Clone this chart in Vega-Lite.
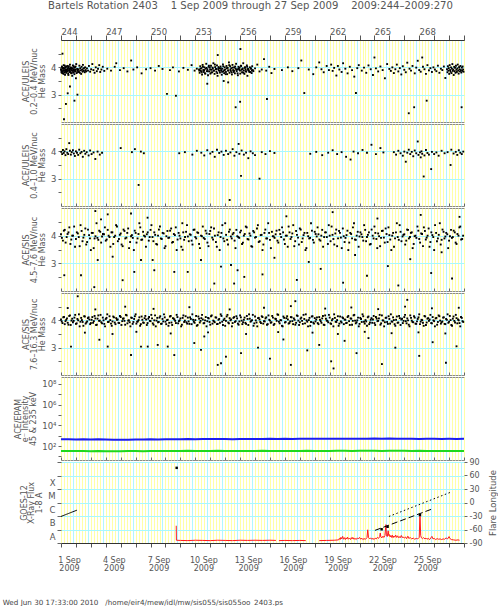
{
"$schema":"https://vega.github.io/schema/vega-lite/v6.json",
"background":"white",
"padding":{"left":2,"top":0,"right":0,"bottom":0},
"title":{"text":"Wed Jun 30 17:33:00 2010\u00a0\u00a0\u00a0/home/eir4/mew/idl/mw/sis055/sis055oo_2403.ps","orient":"bottom","anchor":"start","frame":"bounds","fontSize":7.2,"fontWeight":"normal","color":"#444","font":"DejaVu Sans","offset":26,"dx":-11},
"spacing":2,
"bounds":"flush",
"resolve":{"scale":{"x":"independent","y":"independent"}},
"datasets":{
"p1":[
{"d":1,"m":3.93},{"d":1.03,"m":3.84},{"d":1.06,"m":4.03},{"d":1.09,"m":3.79},{"d":1.12,"m":3.97},{"d":1.15,"m":3.88},{"d":1.18,"m":4.08},{"d":1.21,"m":3.82},{"d":1.24,"m":3.95},{"d":1.27,"m":3.73},{"d":1.3,"m":4.01},{"d":1.33,"m":3.87},{"d":1.36,"m":3.91},{"d":1.39,"m":3.86},{"d":1.42,"m":4.05},{"d":1.45,"m":3.92},{"d":1.48,"m":3.77},{"d":1.51,"m":3.99},{"d":1.54,"m":3.9},{"d":1.57,"m":3.83},{"d":1.6,"m":4.1},{"d":1.63,"m":3.95},{"d":1.66,"m":3.8},{"d":1.69,"m":3.98},{"d":1.72,"m":3.89},{"d":1.75,"m":3.69},{"d":1.78,"m":3.96},{"d":1.81,"m":3.81},{"d":1.84,"m":4.04},{"d":1.87,"m":3.88},{"d":1.9,"m":3.75},{"d":1.93,"m":4.0},{"d":1.96,"m":3.92},{"d":1.99,"m":3.85},{"d":2.02,"m":4.12},{"d":2.05,"m":3.79},{"d":2.08,"m":3.94},{"d":2.11,"m":3.9},{"d":2.14,"m":3.83},{"d":2.17,"m":3.93},{"d":2.2,"m":3.86},{"d":2.23,"m":4.06},{"d":2.26,"m":3.8},{"d":2.29,"m":3.97},{"d":2.32,"m":3.89},{"d":2.35,"m":3.76},{"d":2.38,"m":4.02},{"d":2.41,"m":3.91},{"d":2.44,"m":3.84},{"d":2.47,"m":4.09},{"d":2.5,"m":3.95},{"d":2.53,"m":3.87},{"d":2.56,"m":3.98},{"d":2.59,"m":3.82},{"d":2.62,"m":4.0},{"d":2.65,"m":3.9},{"d":2.68,"m":3.85},
{"d":1.015,"m":3.9},{"d":1.045,"m":3.81},{"d":1.075,"m":4.0},{"d":1.105,"m":3.86},{"d":1.135,"m":3.95},{"d":1.165,"m":3.76},{"d":1.195,"m":3.98},{"d":1.225,"m":3.89},{"d":1.255,"m":4.06},{"d":1.285,"m":3.84},{"d":1.315,"m":3.93},{"d":1.345,"m":3.8},{"d":1.375,"m":4.02},{"d":1.405,"m":3.91},{"d":1.435,"m":3.85},{"d":1.465,"m":3.97},{"d":1.495,"m":3.72},{"d":1.525,"m":4.04},{"d":1.555,"m":3.88},{"d":1.585,"m":3.94},{"d":1.615,"m":3.83},{"d":1.645,"m":4.0},{"d":1.675,"m":3.9},{"d":1.705,"m":3.78},{"d":1.735,"m":3.96},{"d":1.765,"m":3.87},{"d":1.795,"m":4.07},{"d":1.825,"m":3.92},{"d":1.855,"m":3.82},{"d":1.885,"m":3.99},{"d":1.915,"m":3.9},{"d":1.945,"m":3.86},{"d":1.975,"m":4.03},
{"d":2.74,"m":3.96},{"d":2.81,"m":3.88},{"d":2.87,"m":4.05},{"d":2.95,"m":3.84},{"d":3.02,"m":3.93},{"d":3.1,"m":4.12},{"d":3.17,"m":3.9},{"d":3.25,"m":3.8},{"d":3.33,"m":4.0},{"d":3.4,"m":3.86},{"d":3.48,"m":3.95},{"d":3.56,"m":4.08},{"d":3.63,"m":3.83},{"d":3.71,"m":3.92},{"d":3.8,"m":4.02},{"d":3.9,"m":3.87},
{"d":4.1,"m":3.95},{"d":4.35,"m":3.88},{"d":4.6,"m":4.02},{"d":4.7,"m":4.15},{"d":4.95,"m":3.9},{"d":5.2,"m":3.97},{"d":5.45,"m":3.85},{"d":5.7,"m":4.25},{"d":5.85,"m":3.92},{"d":6.1,"m":4.0},{"d":6.4,"m":3.78},{"d":6.7,"m":3.93},{"d":7.0,"m":3.97},{"d":7.3,"m":3.88},{"d":7.55,"m":4.05},{"d":7.8,"m":3.94},{"d":8.1,"m":3.03},{"d":8.3,"m":3.9},{"d":8.5,"m":4.0},{"d":8.7,"m":2.96},{"d":8.9,"m":3.85},{"d":9.2,"m":3.98},{"d":9.5,"m":3.91},{"d":9.75,"m":4.08},{"d":9.95,"m":3.88},{"d":10.1,"m":3.95},
{"d":10.25,"m":3.92},{"d":10.29,"m":3.8},{"d":10.33,"m":4.04},{"d":10.37,"m":3.87},{"d":10.41,"m":3.97},{"d":10.45,"m":3.74},{"d":10.49,"m":4.09},{"d":10.53,"m":3.9},{"d":10.57,"m":3.83},{"d":10.61,"m":4.0},{"d":10.65,"m":3.78},{"d":10.69,"m":3.95},{"d":10.73,"m":4.13},{"d":10.77,"m":3.86},{"d":10.81,"m":3.93},{"d":10.85,"m":3.71},{"d":10.89,"m":4.02},
{"d":10.93,"m":3.85},{"d":10.97,"m":3.99},{"d":11.01,"m":3.77},{"d":11.05,"m":4.06},{"d":11.09,"m":3.91},{"d":11.13,"m":3.82},{"d":11.17,"m":3.96},{"d":11.21,"m":4.15},{"d":11.25,"m":3.88},{"d":11.29,"m":3.76},{"d":11.33,"m":4.01},{"d":11.37,"m":3.93},{"d":11.41,"m":3.84},{"d":11.45,"m":4.07},{"d":11.49,"m":3.69},{"d":11.53,"m":3.94},{"d":11.57,"m":3.89},
{"d":11.61,"m":3.97},{"d":11.65,"m":3.81},{"d":11.69,"m":4.03},{"d":11.73,"m":3.9},{"d":11.77,"m":3.73},{"d":11.81,"m":3.95},{"d":11.85,"m":4.11},{"d":11.89,"m":3.86},{"d":11.93,"m":3.79},{"d":11.97,"m":4.0},{"d":12.01,"m":3.92},{"d":12.05,"m":3.83},{"d":12.09,"m":4.05},{"d":12.13,"m":3.75},{"d":12.17,"m":3.98},{"d":12.21,"m":3.88},{"d":12.25,"m":4.18},
{"d":12.29,"m":3.8},{"d":12.33,"m":4.04},{"d":12.37,"m":3.87},{"d":12.41,"m":3.97},{"d":12.45,"m":3.74},{"d":12.49,"m":4.09},{"d":12.53,"m":3.9},{"d":12.57,"m":3.83},{"d":12.61,"m":4.0},{"d":12.65,"m":3.78},{"d":12.69,"m":3.95},{"d":12.73,"m":4.13},{"d":12.77,"m":3.86},{"d":12.81,"m":3.93},{"d":12.85,"m":3.71},{"d":12.89,"m":4.02},{"d":12.93,"m":3.92},
{"d":12.97,"m":3.99},{"d":13.01,"m":3.77},{"d":13.05,"m":4.06},{"d":13.09,"m":3.91},{"d":13.13,"m":3.82},{"d":13.17,"m":3.96},{"d":13.21,"m":4.15},{"d":13.25,"m":3.88},{"d":13.29,"m":3.76},{"d":13.33,"m":4.01},{"d":13.37,"m":3.93},{"d":13.41,"m":3.84},{"d":13.45,"m":4.07},{"d":13.49,"m":3.69},{"d":13.53,"m":3.94},{"d":13.57,"m":3.89},{"d":13.61,"m":3.85},{"d":13.65,"m":4.0},{"d":13.69,"m":3.83},{"d":13.73,"m":3.95},{"d":13.77,"m":3.79},{"d":13.81,"m":4.04},{"d":13.85,"m":3.9},{"d":13.89,"m":3.86},
{"d":10.27,"m":3.88},{"d":10.35,"m":3.95},{"d":10.43,"m":3.83},{"d":10.51,"m":4.02},{"d":10.59,"m":3.9},{"d":10.67,"m":3.77},{"d":10.75,"m":3.98},{"d":10.83,"m":3.86},{"d":10.91,"m":4.06},{"d":10.99,"m":3.92},{"d":11.07,"m":3.81},{"d":11.15,"m":3.99},{"d":11.23,"m":3.88},{"d":11.31,"m":4.1},{"d":11.39,"m":3.94},{"d":11.47,"m":3.79},{"d":11.55,"m":4.01},{"d":11.63,"m":3.87},{"d":11.71,"m":3.96},{"d":11.79,"m":3.84},{"d":11.87,"m":4.04},{"d":11.95,"m":3.9},{"d":12.03,"m":3.75},{"d":12.11,"m":3.97},{"d":12.19,"m":3.89},{"d":12.27,"m":4.08},{"d":12.35,"m":3.92},{"d":12.43,"m":3.82},{"d":12.51,"m":3.99},{"d":12.59,"m":3.87},{"d":12.67,"m":4.03},{"d":12.75,"m":3.91},{"d":12.83,"m":3.78},{"d":12.91,"m":3.96},{"d":12.99,"m":3.88},{"d":13.07,"m":4.05},{"d":13.15,"m":3.93},{"d":13.23,"m":3.8},{"d":13.31,"m":3.98},{"d":13.39,"m":3.86},{"d":13.47,"m":4.02},{"d":13.55,"m":3.9},{"d":13.63,"m":3.83},{"d":13.71,"m":3.97},{"d":13.79,"m":3.88},
{"d":14.0,"m":3.96},{"d":14.15,"m":4.1},{"d":14.3,"m":3.85},{"d":14.45,"m":3.92},{"d":14.6,"m":4.3},{"d":14.75,"m":3.88},{"d":14.8,"m":2.84},{"d":14.95,"m":4.02},{"d":15.1,"m":3.79},{"d":15.3,"m":3.94},{"d":15.8,"m":3.9},{"d":16.2,"m":4.0},{"d":16.5,"m":3.86},{"d":16.9,"m":3.97},{"d":17.1,"m":4.25},{"d":17.3,"m":3.06},{"d":17.6,"m":3.92},{"d":17.9,"m":3.75},{"d":18.1,"m":4.0},{"d":18.3,"m":4.18},{"d":18.45,"m":3.93},{"d":18.6,"m":3.82},{"d":18.8,"m":4.05},{"d":18.95,"m":3.9},
{"d":19.1,"m":4.1},{"d":19.2,"m":3.87},{"d":19.3,"m":3.98},{"d":19.45,"m":3.7},{"d":19.55,"m":4.05},{"d":19.65,"m":3.92},{"d":19.8,"m":3.83},{"d":19.9,"m":4.15},{"d":20.05,"m":3.95},{"d":20.2,"m":3.78},{"d":20.35,"m":4.02},{"d":20.5,"m":3.9},{"d":20.65,"m":3.66},{"d":20.76,"m":3.06},{"d":20.85,"m":3.97},{"d":20.95,"m":4.08},
{"d":21.15,"m":3.88},{"d":21.3,"m":3.99},{"d":21.45,"m":3.8},{"d":21.6,"m":4.07},{"d":21.75,"m":3.93},{"d":21.9,"m":3.72},{"d":22.0,"m":4.36},{"d":22.1,"m":3.96},{"d":22.25,"m":3.85},{"d":22.4,"m":4.03},{"d":22.55,"m":3.9},{"d":22.7,"m":3.6},{"d":22.85,"m":4.12},{"d":23.0,"m":3.94},
{"d":23.1,"m":3.87},{"d":23.2,"m":4.0},{"d":23.3,"m":3.79},{"d":23.4,"m":3.93},{"d":23.5,"m":4.1},{"d":23.6,"m":3.85},{"d":23.7,"m":3.97},{"d":23.8,"m":3.74},{"d":23.9,"m":4.04},{"d":24.0,"m":3.91},{"d":24.1,"m":3.82},{"d":24.2,"m":4.17},{"d":24.3,"m":2.32},{"d":24.35,"m":3.95},{"d":24.45,"m":3.88},{"d":24.55,"m":4.05},{"d":24.66,"m":2.54},{"d":24.7,"m":3.78},{"d":24.8,"m":3.99},{"d":24.9,"m":4.24},{"d":25.0,"m":3.9},{"d":25.1,"m":3.84},{"d":25.2,"m":4.36},{"d":25.25,"m":4.02},{"d":25.35,"m":3.93},{"d":25.45,"m":3.76},{"d":25.5,"m":2.78},{"d":25.55,"m":4.08},{"d":25.65,"m":3.89},{"d":25.75,"m":3.97},{"d":25.85,"m":3.83},{"d":25.95,"m":4.0},{"d":26.05,"m":3.92},{"d":26.15,"m":3.86},{"d":26.25,"m":4.06},{"d":26.35,"m":3.8},{"d":26.45,"m":3.95},{"d":26.55,"m":3.9},{"d":26.65,"m":4.03},{"d":26.75,"m":3.61},
{"d":26.86,"m":3.93},{"d":26.89,"m":3.82},{"d":26.92,"m":4.04},{"d":26.95,"m":3.88},{"d":26.98,"m":3.97},{"d":27.01,"m":3.76},{"d":27.04,"m":4.08},{"d":27.07,"m":3.9},{"d":27.1,"m":3.84},{"d":27.13,"m":4.0},{"d":27.16,"m":3.79},{"d":27.19,"m":3.95},{"d":27.22,"m":4.12},{"d":27.25,"m":3.87},{"d":27.28,"m":3.92},{"d":27.31,"m":3.72},{"d":27.34,"m":4.02},{"d":27.37,"m":3.86},{"d":27.4,"m":3.98},{"d":27.43,"m":3.8},{"d":27.46,"m":4.06},{"d":27.49,"m":3.91},{"d":27.52,"m":3.83},{"d":27.55,"m":3.96},{"d":27.58,"m":4.1},{"d":27.61,"m":3.88},{"d":27.64,"m":3.77},{"d":27.67,"m":4.01},{"d":27.7,"m":3.93},{"d":27.73,"m":3.85},{"d":27.76,"m":4.05},{"d":27.79,"m":3.9},{"d":27.82,"m":3.81},{"d":27.84,"m":2.54},{"d":27.85,"m":3.99},{"d":27.88,"m":3.87},{"d":27.91,"m":4.03},{"d":27.94,"m":3.92},{"d":27.97,"m":3.84},
{"d":1.1,"m":4.5},{"d":1.2,"m":2.1},{"d":1.33,"m":2.66},{"d":1.45,"m":3.05},{"d":1.9,"m":2.78},{"d":2.0,"m":3.6},{"d":2.1,"m":3.0},{"d":1.6,"m":3.3},{"d":12.7,"m":2.54},{"d":13.0,"m":2.74},{"d":13.02,"m":4.67},{"d":11.5,"m":4.45},{"d":10.8,"m":3.4},{"d":12.2,"m":3.45},{"d":11.9,"m":3.5}
],
"p2":[
{"d":1.02,"m":3.98},{"d":1.08,"m":3.9},{"d":1.13,"m":4.05},{"d":1.18,"m":3.94},{"d":1.24,"m":4.0},{"d":1.3,"m":3.86},{"d":1.36,"m":4.08},{"d":1.42,"m":3.95},{"d":1.48,"m":3.9},{"d":1.55,"m":4.3},{"d":1.6,"m":4.02},{"d":1.66,"m":3.88},{"d":1.72,"m":3.97},{"d":1.8,"m":4.04},{"d":1.86,"m":3.92},{"d":1.93,"m":3.83},{"d":2.0,"m":4.0},{"d":2.07,"m":3.95},{"d":2.15,"m":3.87},{"d":2.22,"m":4.06},{"d":2.3,"m":3.93},{"d":2.38,"m":3.98},{"d":2.46,"m":3.8},{"d":2.55,"m":4.02},{"d":2.63,"m":3.91},{"d":2.72,"m":3.97},{"d":2.85,"m":3.85},{"d":2.95,"m":4.03},{"d":3.05,"m":3.9},{"d":3.18,"m":3.96},{"d":3.3,"m":3.72},{"d":3.45,"m":3.99},{"d":3.6,"m":3.88},{"d":3.75,"m":3.95},
{"d":5.0,"m":4.12},{"d":5.75,"m":3.97},{"d":5.95,"m":4.08},{"d":6.2,"m":2.77},{"d":6.35,"m":3.99},{"d":6.55,"m":3.93},
{"d":8.92,"m":3.93},{"d":9.3,"m":3.97},{"d":9.8,"m":3.88},{"d":10.1,"m":4.02},{"d":10.4,"m":3.95},{"d":10.6,"m":3.85},{"d":10.8,"m":4.04},{"d":11.0,"m":3.92},{"d":11.15,"m":3.98},{"d":11.3,"m":3.8},{"d":11.45,"m":4.06},{"d":11.6,"m":3.94},{"d":11.75,"m":3.99},{"d":11.9,"m":3.87},{"d":12.05,"m":4.02},{"d":12.2,"m":3.9},{"d":12.3,"m":2.22},{"d":12.35,"m":3.96},{"d":12.5,"m":4.08},{"d":12.62,"m":3.84},{"d":12.75,"m":3.97},{"d":12.9,"m":4.27},{"d":12.95,"m":3.91},{"d":13.06,"m":3.1},{"d":13.1,"m":4.03},{"d":13.25,"m":3.88},{"d":13.4,"m":3.95},{"d":13.55,"m":3.75},{"d":13.7,"m":4.0},{"d":13.85,"m":3.93},{"d":14.0,"m":3.86},
{"d":14.3,"m":3.0},{"d":14.45,"m":3.97},{"d":14.7,"m":3.9},{"d":15.0,"m":4.01},{"d":15.3,"m":3.94},{"d":17.7,"m":3.91},{"d":18.1,"m":3.98},{"d":18.5,"m":3.86},{"d":18.9,"m":3.95},{"d":19.2,"m":4.04},{"d":19.5,"m":3.9},{"d":19.8,"m":3.97},{"d":20.1,"m":3.8},{"d":20.4,"m":3.7},{"d":20.6,"m":3.99},{"d":20.9,"m":3.93},{"d":21.2,"m":4.05},{"d":21.5,"m":3.95},{"d":21.8,"m":4.24},{"d":22.1,"m":3.9},{"d":22.4,"m":4.12},{"d":22.6,"m":3.96},
{"d":23.3,"m":3.97},{"d":23.45,"m":3.88},{"d":23.6,"m":4.02},{"d":23.75,"m":3.93},{"d":23.9,"m":3.84},{"d":24.0,"m":3.99},{"d":24.1,"m":3.62},{"d":24.2,"m":3.95},{"d":24.3,"m":4.06},{"d":24.4,"m":3.9},{"d":24.5,"m":3.98},{"d":24.6,"m":3.82},{"d":24.7,"m":4.03},{"d":24.8,"m":3.93},{"d":24.9,"m":4.36},{"d":24.95,"m":3.87},{"d":25.05,"m":3.96},{"d":25.1,"m":3.78},{"d":25.15,"m":4.0},{"d":25.2,"m":3.91},{"d":25.3,"m":3.08},{"d":25.35,"m":3.85},{"d":25.45,"m":4.05},{"d":25.55,"m":3.94},{"d":25.65,"m":3.88},{"d":25.8,"m":3.35},{"d":25.85,"m":3.98},{"d":26.0,"m":3.9},{"d":26.15,"m":3.96},{"d":26.3,"m":3.84},{"d":26.5,"m":4.02},{"d":26.7,"m":3.93},{"d":26.9,"m":3.97},{"d":27.1,"m":3.5},{"d":27.15,"m":4.06},{"d":27.3,"m":3.92},{"d":27.45,"m":3.98},{"d":27.55,"m":3.87},{"d":27.65,"m":4.04},{"d":27.75,"m":3.95},{"d":27.85,"m":3.9},{"d":27.95,"m":3.99}
],
"p3":[
{"d":1,"m":4.05},{"d":1.13,"m":3.82},{"d":1.25,"m":4.21},{"d":1.38,"m":3.95},{"d":1.5,"m":4.12},{"d":1.63,"m":3.7},{"d":1.75,"m":4.0},{"d":1.88,"m":4.33},
{"d":2,"m":3.88},{"d":2.13,"m":4.08},{"d":2.25,"m":3.62},{"d":2.38,"m":4.17},{"d":2.5,"m":3.93},{"d":2.63,"m":4.26},{"d":2.75,"m":3.77},{"d":2.88,"m":4.02},
{"d":3,"m":3.48},{"d":3.13,"m":4.1},{"d":3.25,"m":3.9},{"d":3.38,"m":4.45},{"d":3.5,"m":3.85},{"d":3.63,"m":4.14},{"d":3.75,"m":3.97},{"d":3.88,"m":4.05},
{"d":4,"m":3.82},{"d":4.13,"m":4.21},{"d":4.25,"m":3.95},{"d":4.38,"m":4.12},{"d":4.5,"m":3.7},{"d":4.63,"m":4.0},{"d":4.75,"m":4.33},{"d":4.88,"m":3.88},
{"d":5,"m":4.08},{"d":5.13,"m":3.62},{"d":5.25,"m":4.17},{"d":5.38,"m":3.93},{"d":5.5,"m":4.26},{"d":5.63,"m":3.77},{"d":5.75,"m":4.02},{"d":5.88,"m":3.48},
{"d":6,"m":4.1},{"d":6.13,"m":3.9},{"d":6.25,"m":4.45},{"d":6.38,"m":3.85},{"d":6.5,"m":4.14},{"d":6.63,"m":3.97},{"d":6.75,"m":4.05},{"d":6.88,"m":3.82},
{"d":7,"m":4.21},{"d":7.13,"m":3.95},{"d":7.25,"m":4.12},{"d":7.38,"m":3.7},{"d":7.5,"m":4.0},{"d":7.63,"m":4.33},{"d":7.75,"m":3.88},{"d":7.88,"m":4.08},
{"d":8,"m":3.62},{"d":8.13,"m":4.17},{"d":8.25,"m":3.93},{"d":8.38,"m":4.26},{"d":8.5,"m":3.77},{"d":8.63,"m":4.02},{"d":8.75,"m":3.48},{"d":8.88,"m":4.1},
{"d":9,"m":3.9},{"d":9.13,"m":4.45},{"d":9.25,"m":3.85},{"d":9.38,"m":4.14},{"d":9.5,"m":3.97},{"d":9.63,"m":4.05},{"d":9.75,"m":3.82},{"d":9.88,"m":4.21},
{"d":10,"m":3.95},{"d":10.13,"m":4.12},{"d":10.25,"m":3.7},{"d":10.38,"m":4.0},{"d":10.5,"m":4.33},{"d":10.63,"m":3.88},{"d":10.75,"m":4.08},{"d":10.88,"m":3.62},
{"d":11,"m":4.17},{"d":11.13,"m":3.93},{"d":11.25,"m":4.26},{"d":11.38,"m":3.77},{"d":11.5,"m":4.02},{"d":11.63,"m":3.48},{"d":11.75,"m":4.1},{"d":11.88,"m":3.9},
{"d":12,"m":4.45},{"d":12.13,"m":3.85},{"d":12.25,"m":4.14},{"d":12.38,"m":3.97},{"d":12.5,"m":4.05},{"d":12.63,"m":3.82},{"d":12.75,"m":4.21},{"d":12.88,"m":3.95},
{"d":13,"m":4.12},{"d":13.13,"m":3.7},{"d":13.25,"m":4.0},{"d":13.38,"m":4.33},{"d":13.5,"m":3.88},{"d":13.63,"m":4.08},{"d":13.75,"m":3.62},{"d":13.88,"m":4.17},
{"d":14,"m":3.93},{"d":14.13,"m":4.26},{"d":14.25,"m":3.77},{"d":14.38,"m":4.02},{"d":14.5,"m":3.48},{"d":14.63,"m":4.1},{"d":14.75,"m":3.9},{"d":14.88,"m":4.45},
{"d":15,"m":3.85},{"d":15.13,"m":4.14},{"d":15.25,"m":3.97},{"d":15.38,"m":4.05},{"d":15.5,"m":3.82},{"d":15.63,"m":4.21},{"d":15.75,"m":3.95},{"d":15.88,"m":4.12},
{"d":16,"m":3.7},{"d":16.13,"m":4.0},{"d":16.25,"m":4.33},{"d":16.38,"m":3.88},{"d":16.5,"m":4.08},{"d":16.63,"m":3.62},{"d":16.75,"m":4.17},{"d":16.88,"m":3.93},
{"d":17,"m":4.26},{"d":17.13,"m":3.77},{"d":17.25,"m":4.02},{"d":17.38,"m":3.48},{"d":17.5,"m":4.1},{"d":17.63,"m":3.9},{"d":17.75,"m":4.45},{"d":17.88,"m":3.85},
{"d":18,"m":4.14},{"d":18.13,"m":3.97},{"d":18.25,"m":4.05},{"d":18.38,"m":3.82},{"d":18.5,"m":4.21},{"d":18.63,"m":3.95},{"d":18.75,"m":4.12},{"d":18.88,"m":3.7},
{"d":19,"m":4.0},{"d":19.13,"m":4.33},{"d":19.25,"m":3.88},{"d":19.38,"m":4.08},{"d":19.5,"m":3.62},{"d":19.63,"m":4.17},{"d":19.75,"m":3.93},{"d":19.88,"m":4.26},
{"d":20,"m":3.77},{"d":20.13,"m":4.02},{"d":20.25,"m":3.48},{"d":20.38,"m":4.1},{"d":20.5,"m":3.9},{"d":20.63,"m":4.45},{"d":20.75,"m":3.85},{"d":20.88,"m":4.14},
{"d":21,"m":3.97},{"d":21.13,"m":4.05},{"d":21.25,"m":3.82},{"d":21.38,"m":4.21},{"d":21.5,"m":3.95},{"d":21.63,"m":4.12},{"d":21.75,"m":3.7},{"d":21.88,"m":4.0},
{"d":22,"m":4.33},{"d":22.13,"m":3.88},{"d":22.25,"m":4.08},{"d":22.38,"m":3.62},{"d":22.5,"m":4.17},{"d":22.63,"m":3.93},{"d":22.75,"m":4.26},{"d":22.88,"m":3.77},
{"d":23,"m":4.02},{"d":23.13,"m":3.48},{"d":23.25,"m":4.1},{"d":23.38,"m":3.9},{"d":23.5,"m":4.45},{"d":23.63,"m":3.85},{"d":23.75,"m":4.14},{"d":23.88,"m":3.97},
{"d":24,"m":4.05},{"d":24.13,"m":3.82},{"d":24.25,"m":4.21},{"d":24.38,"m":3.95},{"d":24.5,"m":4.12},{"d":24.63,"m":3.7},{"d":24.75,"m":4.0},{"d":24.88,"m":4.33},
{"d":25,"m":3.88},{"d":25.13,"m":4.08},{"d":25.25,"m":3.62},{"d":25.38,"m":4.17},{"d":25.5,"m":3.93},{"d":25.63,"m":4.26},{"d":25.75,"m":3.77},{"d":25.88,"m":4.02},
{"d":26,"m":3.48},{"d":26.13,"m":4.1},{"d":26.25,"m":3.9},{"d":26.38,"m":4.45},{"d":26.5,"m":3.85},{"d":26.63,"m":4.14},{"d":26.75,"m":3.97},{"d":26.88,"m":4.05},
{"d":27,"m":3.82},{"d":27.13,"m":4.21},{"d":27.25,"m":3.95},{"d":27.38,"m":4.12},{"d":27.5,"m":3.7},{"d":27.63,"m":4.0},{"d":27.75,"m":4.33},{"d":27.88,"m":3.88},
{"d":1.06,"m":3.92},{"d":1.19,"m":4.18},{"d":1.31,"m":3.75},{"d":1.44,"m":4.06},{"d":1.56,"m":4.3},{"d":1.69,"m":3.86},{"d":1.81,"m":4.0},{"d":1.94,"m":3.6},
{"d":2.06,"m":4.12},{"d":2.19,"m":3.95},{"d":2.31,"m":4.38},{"d":2.44,"m":3.8},{"d":2.56,"m":4.03},{"d":2.69,"m":3.68},{"d":2.81,"m":4.22},{"d":2.94,"m":3.9},
{"d":3.06,"m":4.1},{"d":3.19,"m":3.55},{"d":3.31,"m":3.98},{"d":3.44,"m":3.92},{"d":3.56,"m":4.18},{"d":3.69,"m":3.75},{"d":3.81,"m":4.06},{"d":3.94,"m":4.3},
{"d":4.06,"m":3.86},{"d":4.19,"m":4.0},{"d":4.31,"m":3.6},{"d":4.44,"m":4.12},{"d":4.56,"m":3.95},{"d":4.69,"m":4.38},{"d":4.81,"m":3.8},{"d":4.94,"m":4.03},
{"d":5.06,"m":3.68},{"d":5.19,"m":4.22},{"d":5.31,"m":3.9},{"d":5.44,"m":4.1},{"d":5.56,"m":3.55},{"d":5.69,"m":3.98},{"d":5.81,"m":3.92},{"d":5.94,"m":4.18},
{"d":6.06,"m":3.75},{"d":6.19,"m":4.06},{"d":6.31,"m":4.3},{"d":6.44,"m":3.86},{"d":6.56,"m":4.0},{"d":6.69,"m":3.6},{"d":6.81,"m":4.12},{"d":6.94,"m":3.95},
{"d":7.06,"m":4.38},{"d":7.19,"m":3.8},{"d":7.31,"m":4.03},{"d":7.44,"m":3.68},{"d":7.56,"m":4.22},{"d":7.69,"m":3.9},{"d":7.81,"m":4.1},{"d":7.94,"m":3.55},
{"d":8.06,"m":3.98},{"d":8.19,"m":3.92},{"d":8.31,"m":4.18},{"d":8.44,"m":3.75},{"d":8.56,"m":4.06},{"d":8.69,"m":4.3},{"d":8.81,"m":3.86},{"d":8.94,"m":4.0},
{"d":9.06,"m":3.6},{"d":9.19,"m":4.12},{"d":9.31,"m":3.95},{"d":9.44,"m":4.38},{"d":9.56,"m":3.8},{"d":9.69,"m":4.03},{"d":9.81,"m":3.68},{"d":9.94,"m":4.22},
{"d":10.06,"m":3.9},{"d":10.19,"m":4.1},{"d":10.31,"m":3.55},{"d":10.44,"m":3.98},{"d":10.56,"m":3.92},{"d":10.69,"m":4.18},{"d":10.81,"m":3.75},{"d":10.94,"m":4.06},
{"d":11.06,"m":4.3},{"d":11.19,"m":3.86},{"d":11.31,"m":4.0},{"d":11.44,"m":3.6},{"d":11.56,"m":4.12},{"d":11.69,"m":3.95},{"d":11.81,"m":4.38},{"d":11.94,"m":3.8},
{"d":12.06,"m":4.03},{"d":12.19,"m":3.68},{"d":12.31,"m":4.22},{"d":12.44,"m":3.9},{"d":12.56,"m":4.1},{"d":12.69,"m":3.55},{"d":12.81,"m":3.98},{"d":12.94,"m":3.92},
{"d":13.06,"m":4.18},{"d":13.19,"m":3.75},{"d":13.31,"m":4.06},{"d":13.44,"m":4.3},{"d":13.56,"m":3.86},{"d":13.69,"m":4.0},{"d":13.81,"m":3.6},{"d":13.94,"m":4.12},
{"d":14.06,"m":3.95},{"d":14.19,"m":4.38},{"d":14.31,"m":3.8},{"d":14.44,"m":4.03},{"d":14.56,"m":3.68},{"d":14.69,"m":4.22},{"d":14.81,"m":3.9},{"d":14.94,"m":4.1},
{"d":15.06,"m":3.55},{"d":15.19,"m":3.98},{"d":15.31,"m":3.92},{"d":15.44,"m":4.18},{"d":15.56,"m":3.75},{"d":15.69,"m":4.06},{"d":15.81,"m":4.3},{"d":15.94,"m":3.86},
{"d":16.06,"m":4.0},{"d":16.19,"m":3.6},{"d":16.31,"m":4.12},{"d":16.44,"m":3.95},{"d":16.56,"m":4.38},{"d":16.69,"m":3.8},{"d":16.81,"m":4.03},{"d":16.94,"m":3.68},
{"d":17.06,"m":4.22},{"d":17.19,"m":3.9},{"d":17.31,"m":4.1},{"d":17.44,"m":3.55},{"d":17.56,"m":3.98},{"d":17.69,"m":3.92},{"d":17.81,"m":4.18},{"d":17.94,"m":3.75},
{"d":18.06,"m":4.06},{"d":18.19,"m":4.3},{"d":18.31,"m":3.86},{"d":18.44,"m":4.0},{"d":18.56,"m":3.6},{"d":18.69,"m":4.12},{"d":18.81,"m":3.95},{"d":18.94,"m":4.38},
{"d":19.06,"m":3.8},{"d":19.19,"m":4.03},{"d":19.31,"m":3.68},{"d":19.44,"m":4.22},{"d":19.56,"m":3.9},{"d":19.69,"m":4.1},{"d":19.81,"m":3.55},{"d":19.94,"m":3.98},
{"d":20.06,"m":3.92},{"d":20.19,"m":4.18},{"d":20.31,"m":3.75},{"d":20.44,"m":4.06},{"d":20.56,"m":4.3},{"d":20.69,"m":3.86},{"d":20.81,"m":4.0},{"d":20.94,"m":3.6},
{"d":21.06,"m":4.12},{"d":21.19,"m":3.95},{"d":21.31,"m":4.38},{"d":21.44,"m":3.8},{"d":21.56,"m":4.03},{"d":21.69,"m":3.68},{"d":21.81,"m":4.22},{"d":21.94,"m":3.9},
{"d":22.06,"m":4.1},{"d":22.19,"m":3.55},{"d":22.31,"m":3.98},{"d":22.44,"m":3.92},{"d":22.56,"m":4.18},{"d":22.69,"m":3.75},{"d":22.81,"m":4.06},{"d":22.94,"m":4.3},
{"d":23.06,"m":3.86},{"d":23.19,"m":4.0},{"d":23.31,"m":3.6},{"d":23.44,"m":4.12},{"d":23.56,"m":3.95},{"d":23.69,"m":4.38},{"d":23.81,"m":3.8},{"d":23.94,"m":4.03},
{"d":24.06,"m":3.68},{"d":24.19,"m":4.22},{"d":24.31,"m":3.9},{"d":24.44,"m":4.1},{"d":24.56,"m":3.55},{"d":24.69,"m":3.98},{"d":24.81,"m":3.92},{"d":24.94,"m":4.18},
{"d":25.06,"m":3.75},{"d":25.19,"m":4.06},{"d":25.31,"m":4.3},{"d":25.44,"m":3.86},{"d":25.56,"m":4.0},{"d":25.69,"m":3.6},{"d":25.81,"m":4.12},{"d":25.94,"m":3.95},
{"d":26.06,"m":4.38},{"d":26.19,"m":3.8},{"d":26.31,"m":4.03},{"d":26.44,"m":3.68},{"d":26.56,"m":4.22},{"d":26.69,"m":3.9},{"d":26.81,"m":4.1},{"d":26.94,"m":3.55},
{"d":27.06,"m":3.98},{"d":27.19,"m":3.92},{"d":27.31,"m":4.18},{"d":27.44,"m":3.75},{"d":27.56,"m":4.06},{"d":27.69,"m":4.3},{"d":27.81,"m":3.86},{"d":27.94,"m":4.0},
{"d":1.22,"m":2.57},{"d":2.34,"m":2.57},{"d":3.23,"m":2.14},{"d":3.46,"m":3.12},{"d":3.68,"m":4.59},{"d":3.3,"m":4.89},{"d":4.13,"m":4.77},{"d":4.46,"m":3.24},{"d":5.13,"m":2.39},{"d":5.69,"m":4.8},{"d":5.91,"m":2.69},{"d":6.36,"m":3.12},{"d":7.14,"m":3.12},{"d":7.25,"m":2.75},{"d":6.8,"m":4.65},{"d":8.59,"m":2.69},{"d":9.49,"m":2.69},{"d":9.15,"m":3.49},{"d":10.38,"m":3.12},{"d":11.27,"m":2.27},{"d":11.72,"m":2.88},{"d":12.39,"m":2.94},{"d":12.83,"m":2.75},{"d":13.28,"m":2.51},{"d":12.6,"m":2.27},{"d":14.5,"m":2.6},{"d":15.3,"m":3.2},{"d":16.1,"m":4.7},{"d":16.8,"m":2.4},{"d":17.6,"m":3.05},{"d":18.4,"m":2.8},{"d":19.2,"m":4.85},{"d":19.9,"m":2.3},{"d":20.7,"m":3.3},{"d":21.5,"m":2.55},{"d":22.2,"m":4.62},{"d":22.9,"m":2.9},{"d":23.6,"m":2.2},{"d":24.4,"m":3.15},{"d":25.1,"m":4.75},{"d":25.8,"m":2.65},{"d":26.5,"m":3.4},{"d":27.2,"m":2.45},{"d":27.7,"m":4.68}
],
"p4":[
{"d":1,"m":4.03},{"d":1.1,"m":3.9},{"d":1.2,"m":4.12},{"d":1.3,"m":3.97},{"d":1.4,"m":4.07},{"d":1.5,"m":3.84},{"d":1.6,"m":4.18},{"d":1.7,"m":3.99},{"d":1.8,"m":3.93},{"d":1.9,"m":4.1},
{"d":2,"m":3.87},{"d":2.1,"m":4.05},{"d":2.2,"m":4.22},{"d":2.3,"m":3.95},{"d":2.4,"m":4.01},{"d":2.5,"m":3.8},{"d":2.6,"m":4.14},{"d":2.7,"m":3.92},{"d":2.8,"m":4.08},{"d":2.9,"m":4.03},
{"d":3,"m":3.9},{"d":3.1,"m":4.12},{"d":3.2,"m":3.97},{"d":3.3,"m":4.07},{"d":3.4,"m":3.84},{"d":3.5,"m":4.18},{"d":3.6,"m":3.99},{"d":3.7,"m":3.93},{"d":3.8,"m":4.1},{"d":3.9,"m":3.87},
{"d":4,"m":4.05},{"d":4.1,"m":4.22},{"d":4.2,"m":3.95},{"d":4.3,"m":4.01},{"d":4.4,"m":3.8},{"d":4.5,"m":4.14},{"d":4.6,"m":3.92},{"d":4.7,"m":4.08},{"d":4.8,"m":4.03},{"d":4.9,"m":3.9},
{"d":5,"m":4.12},{"d":5.1,"m":3.97},{"d":5.2,"m":4.07},{"d":5.3,"m":3.84},{"d":5.4,"m":4.18},{"d":5.5,"m":3.99},{"d":5.6,"m":3.93},{"d":5.7,"m":4.1},{"d":5.8,"m":3.87},{"d":5.9,"m":4.05},
{"d":6,"m":4.22},{"d":6.1,"m":3.95},{"d":6.2,"m":4.01},{"d":6.3,"m":3.8},{"d":6.4,"m":4.14},{"d":6.5,"m":3.92},{"d":6.6,"m":4.08},{"d":6.7,"m":4.03},{"d":6.8,"m":3.9},{"d":6.9,"m":4.12},
{"d":7,"m":3.97},{"d":7.1,"m":4.07},{"d":7.2,"m":3.84},{"d":7.3,"m":4.18},{"d":7.4,"m":3.99},{"d":7.5,"m":3.93},{"d":7.6,"m":4.1},{"d":7.7,"m":3.87},{"d":7.8,"m":4.05},{"d":7.9,"m":4.22},
{"d":8,"m":3.95},{"d":8.1,"m":4.01},{"d":8.2,"m":3.8},{"d":8.3,"m":4.14},{"d":8.4,"m":3.92},{"d":8.5,"m":4.08},{"d":8.6,"m":4.03},{"d":8.7,"m":3.9},{"d":8.8,"m":4.12},{"d":8.9,"m":3.97},
{"d":9,"m":4.07},{"d":9.1,"m":3.84},{"d":9.2,"m":4.18},{"d":9.3,"m":3.99},{"d":9.4,"m":3.93},{"d":9.5,"m":4.1},{"d":9.6,"m":3.87},{"d":9.7,"m":4.05},{"d":9.8,"m":4.22},{"d":9.9,"m":3.95},
{"d":10,"m":4.01},{"d":10.1,"m":3.8},{"d":10.2,"m":4.14},{"d":10.3,"m":3.92},{"d":10.4,"m":4.08},{"d":10.5,"m":4.03},{"d":10.6,"m":3.9},{"d":10.7,"m":4.12},{"d":10.8,"m":3.97},{"d":10.9,"m":4.07},
{"d":11,"m":3.84},{"d":11.1,"m":4.18},{"d":11.2,"m":3.99},{"d":11.3,"m":3.93},{"d":11.4,"m":4.1},{"d":11.5,"m":3.87},{"d":11.6,"m":4.05},{"d":11.7,"m":4.22},{"d":11.8,"m":3.95},{"d":11.9,"m":4.01},
{"d":12,"m":3.8},{"d":12.1,"m":4.14},{"d":12.2,"m":3.92},{"d":12.3,"m":4.08},{"d":12.4,"m":4.03},{"d":12.5,"m":3.9},{"d":12.6,"m":4.12},{"d":12.7,"m":3.97},{"d":12.8,"m":4.07},{"d":12.9,"m":3.84},
{"d":13,"m":4.18},{"d":13.1,"m":3.99},{"d":13.2,"m":3.93},{"d":13.3,"m":4.1},{"d":13.4,"m":3.87},{"d":13.5,"m":4.05},{"d":13.6,"m":4.22},{"d":13.7,"m":3.95},{"d":13.8,"m":4.01},{"d":13.9,"m":3.8},
{"d":14,"m":4.14},{"d":14.1,"m":3.92},{"d":14.2,"m":4.08},{"d":14.3,"m":4.03},{"d":14.4,"m":3.9},{"d":14.5,"m":4.12},{"d":14.6,"m":3.97},{"d":14.7,"m":4.07},{"d":14.8,"m":3.84},{"d":14.9,"m":4.18},
{"d":15,"m":3.99},{"d":15.1,"m":3.93},{"d":15.2,"m":4.1},{"d":15.3,"m":3.87},{"d":15.4,"m":4.05},{"d":15.5,"m":4.22},{"d":15.6,"m":3.95},{"d":15.7,"m":4.01},{"d":15.8,"m":3.8},{"d":15.9,"m":4.14},
{"d":16,"m":3.92},{"d":16.1,"m":4.08},{"d":16.2,"m":4.03},{"d":16.3,"m":3.9},{"d":16.4,"m":4.12},{"d":16.5,"m":3.97},{"d":16.6,"m":4.07},{"d":16.7,"m":3.84},{"d":16.8,"m":4.18},{"d":16.9,"m":3.99},
{"d":17,"m":3.93},{"d":17.1,"m":4.1},{"d":17.2,"m":3.87},{"d":17.3,"m":4.05},{"d":17.4,"m":4.22},{"d":17.5,"m":3.95},{"d":17.6,"m":4.01},{"d":17.7,"m":3.8},{"d":17.8,"m":4.14},{"d":17.9,"m":3.92},
{"d":18,"m":4.08},{"d":18.1,"m":4.03},{"d":18.2,"m":3.9},{"d":18.3,"m":4.12},{"d":18.4,"m":3.97},{"d":18.5,"m":4.07},{"d":18.6,"m":3.84},{"d":18.7,"m":4.18},{"d":18.8,"m":3.99},{"d":18.9,"m":3.93},
{"d":19,"m":4.1},{"d":19.1,"m":3.87},{"d":19.2,"m":4.05},{"d":19.3,"m":4.22},{"d":19.4,"m":3.95},{"d":19.5,"m":4.01},{"d":19.6,"m":3.8},{"d":19.7,"m":4.14},{"d":19.8,"m":3.92},{"d":19.9,"m":4.08},
{"d":20,"m":4.03},{"d":20.1,"m":3.9},{"d":20.2,"m":4.12},{"d":20.3,"m":3.97},{"d":20.4,"m":4.07},{"d":20.5,"m":3.84},{"d":20.6,"m":4.18},{"d":20.7,"m":3.99},{"d":20.8,"m":3.93},{"d":20.9,"m":4.1},
{"d":21,"m":3.87},{"d":21.1,"m":4.05},{"d":21.2,"m":4.22},{"d":21.3,"m":3.95},{"d":21.4,"m":4.01},{"d":21.5,"m":3.8},{"d":21.6,"m":4.14},{"d":21.7,"m":3.92},{"d":21.8,"m":4.08},{"d":21.9,"m":4.03},
{"d":22,"m":3.9},{"d":22.1,"m":4.12},{"d":22.2,"m":3.97},{"d":22.3,"m":4.07},{"d":22.4,"m":3.84},{"d":22.5,"m":4.18},{"d":22.6,"m":3.99},{"d":22.7,"m":3.93},{"d":22.8,"m":4.1},{"d":22.9,"m":3.87},
{"d":23,"m":4.05},{"d":23.1,"m":4.22},{"d":23.2,"m":3.95},{"d":23.3,"m":4.01},{"d":23.4,"m":3.8},{"d":23.5,"m":4.14},{"d":23.6,"m":3.92},{"d":23.7,"m":4.08},{"d":23.8,"m":4.03},{"d":23.9,"m":3.9},
{"d":24,"m":4.12},{"d":24.1,"m":3.97},{"d":24.2,"m":4.07},{"d":24.3,"m":3.84},{"d":24.4,"m":4.18},{"d":24.5,"m":3.99},{"d":24.6,"m":3.93},{"d":24.7,"m":4.1},{"d":24.8,"m":3.87},{"d":24.9,"m":4.05},
{"d":25,"m":4.22},{"d":25.1,"m":3.95},{"d":25.2,"m":4.01},{"d":25.3,"m":3.8},{"d":25.4,"m":4.14},{"d":25.5,"m":3.92},{"d":25.6,"m":4.08},{"d":25.7,"m":4.03},{"d":25.8,"m":3.9},{"d":25.9,"m":4.12},
{"d":26,"m":3.97},{"d":26.1,"m":4.07},{"d":26.2,"m":3.84},{"d":26.3,"m":4.18},{"d":26.4,"m":3.99},{"d":26.5,"m":3.93},{"d":26.6,"m":4.1},{"d":26.7,"m":3.87},{"d":26.8,"m":4.05},{"d":26.9,"m":4.22},
{"d":27,"m":3.95},{"d":27.1,"m":4.01},{"d":27.2,"m":3.8},{"d":27.3,"m":4.14},{"d":27.4,"m":3.92},{"d":27.5,"m":4.08},{"d":27.6,"m":4.03},{"d":27.7,"m":3.9},{"d":27.8,"m":4.12},{"d":27.9,"m":3.97},
{"d":1.05,"m":3.96},{"d":1.15,"m":4.11},{"d":1.25,"m":3.86},{"d":1.35,"m":4.02},{"d":1.45,"m":3.91},{"d":1.55,"m":4.16},{"d":1.65,"m":3.83},{"d":1.75,"m":4.06},{"d":1.85,"m":3.98},{"d":1.95,"m":4.2},
{"d":2.05,"m":3.89},{"d":2.15,"m":4.0},{"d":2.25,"m":3.78},{"d":2.35,"m":4.09},{"d":2.45,"m":3.94},{"d":2.55,"m":4.15},{"d":2.65,"m":3.88},{"d":2.75,"m":3.96},{"d":2.85,"m":4.11},{"d":2.95,"m":3.86},
{"d":3.05,"m":4.02},{"d":3.15,"m":3.91},{"d":3.25,"m":4.16},{"d":3.35,"m":3.83},{"d":3.45,"m":4.06},{"d":3.55,"m":3.98},{"d":3.65,"m":4.2},{"d":3.75,"m":3.89},{"d":3.85,"m":4.0},{"d":3.95,"m":3.78},
{"d":4.05,"m":4.09},{"d":4.15,"m":3.94},{"d":4.25,"m":4.15},{"d":4.35,"m":3.88},{"d":4.45,"m":3.96},{"d":4.55,"m":4.11},{"d":4.65,"m":3.86},{"d":4.75,"m":4.02},{"d":4.85,"m":3.91},{"d":4.95,"m":4.16},
{"d":5.05,"m":3.83},{"d":5.15,"m":4.06},{"d":5.25,"m":3.98},{"d":5.35,"m":4.2},{"d":5.45,"m":3.89},{"d":5.55,"m":4.0},{"d":5.65,"m":3.78},{"d":5.75,"m":4.09},{"d":5.85,"m":3.94},{"d":5.95,"m":4.15},
{"d":6.05,"m":3.88},{"d":6.15,"m":3.96},{"d":6.25,"m":4.11},{"d":6.35,"m":3.86},{"d":6.45,"m":4.02},{"d":6.55,"m":3.91},{"d":6.65,"m":4.16},{"d":6.75,"m":3.83},{"d":6.85,"m":4.06},{"d":6.95,"m":3.98},
{"d":7.05,"m":4.2},{"d":7.15,"m":3.89},{"d":7.25,"m":4.0},{"d":7.35,"m":3.78},{"d":7.45,"m":4.09},{"d":7.55,"m":3.94},{"d":7.65,"m":4.15},{"d":7.75,"m":3.88},{"d":7.85,"m":3.96},{"d":7.95,"m":4.11},
{"d":8.05,"m":3.86},{"d":8.15,"m":4.02},{"d":8.25,"m":3.91},{"d":8.35,"m":4.16},{"d":8.45,"m":3.83},{"d":8.55,"m":4.06},{"d":8.65,"m":3.98},{"d":8.75,"m":4.2},{"d":8.85,"m":3.89},{"d":8.95,"m":4.0},
{"d":9.05,"m":3.78},{"d":9.15,"m":4.09},{"d":9.25,"m":3.94},{"d":9.35,"m":4.15},{"d":9.45,"m":3.88},{"d":9.55,"m":3.96},{"d":9.65,"m":4.11},{"d":9.75,"m":3.86},{"d":9.85,"m":4.02},{"d":9.95,"m":3.91},
{"d":10.05,"m":4.16},{"d":10.15,"m":3.83},{"d":10.25,"m":4.06},{"d":10.35,"m":3.98},{"d":10.45,"m":4.2},{"d":10.55,"m":3.89},{"d":10.65,"m":4.0},{"d":10.75,"m":3.78},{"d":10.85,"m":4.09},{"d":10.95,"m":3.94},
{"d":11.05,"m":4.15},{"d":11.15,"m":3.88},{"d":11.25,"m":3.96},{"d":11.35,"m":4.11},{"d":11.45,"m":3.86},{"d":11.55,"m":4.02},{"d":11.65,"m":3.91},{"d":11.75,"m":4.16},{"d":11.85,"m":3.83},{"d":11.95,"m":4.06},
{"d":12.05,"m":3.98},{"d":12.15,"m":4.2},{"d":12.25,"m":3.89},{"d":12.35,"m":4.0},{"d":12.45,"m":3.78},{"d":12.55,"m":4.09},{"d":12.65,"m":3.94},{"d":12.75,"m":4.15},{"d":12.85,"m":3.88},{"d":12.95,"m":3.96},
{"d":13.05,"m":4.11},{"d":13.15,"m":3.86},{"d":13.25,"m":4.02},{"d":13.35,"m":3.91},{"d":13.45,"m":4.16},{"d":13.55,"m":3.83},{"d":13.65,"m":4.06},{"d":13.75,"m":3.98},{"d":13.85,"m":4.2},{"d":13.95,"m":3.89},
{"d":14.05,"m":4.0},{"d":14.15,"m":3.78},{"d":14.25,"m":4.09},{"d":14.35,"m":3.94},{"d":14.45,"m":4.15},{"d":14.55,"m":3.88},{"d":14.65,"m":3.96},{"d":14.75,"m":4.11},{"d":14.85,"m":3.86},{"d":14.95,"m":4.02},
{"d":15.05,"m":3.91},{"d":15.15,"m":4.16},{"d":15.25,"m":3.83},{"d":15.35,"m":4.06},{"d":15.45,"m":3.98},{"d":15.55,"m":4.2},{"d":15.65,"m":3.89},{"d":15.75,"m":4.0},{"d":15.85,"m":3.78},{"d":15.95,"m":4.09},
{"d":16.05,"m":3.94},{"d":16.15,"m":4.15},{"d":16.25,"m":3.88},{"d":16.35,"m":3.96},{"d":16.45,"m":4.11},{"d":16.55,"m":3.86},{"d":16.65,"m":4.02},{"d":16.75,"m":3.91},{"d":16.85,"m":4.16},{"d":16.95,"m":3.83},
{"d":17.05,"m":4.06},{"d":17.15,"m":3.98},{"d":17.25,"m":4.2},{"d":17.35,"m":3.89},{"d":17.45,"m":4.0},{"d":17.55,"m":3.78},{"d":17.65,"m":4.09},{"d":17.75,"m":3.94},{"d":17.85,"m":4.15},{"d":17.95,"m":3.88},
{"d":18.05,"m":3.96},{"d":18.15,"m":4.11},{"d":18.25,"m":3.86},{"d":18.35,"m":4.02},{"d":18.45,"m":3.91},{"d":18.55,"m":4.16},{"d":18.65,"m":3.83},{"d":18.75,"m":4.06},{"d":18.85,"m":3.98},{"d":18.95,"m":4.2},
{"d":19.05,"m":3.89},{"d":19.15,"m":4.0},{"d":19.25,"m":3.78},{"d":19.35,"m":4.09},{"d":19.45,"m":3.94},{"d":19.55,"m":4.15},{"d":19.65,"m":3.88},{"d":19.75,"m":3.96},{"d":19.85,"m":4.11},{"d":19.95,"m":3.86},
{"d":20.05,"m":4.02},{"d":20.15,"m":3.91},{"d":20.25,"m":4.16},{"d":20.35,"m":3.83},{"d":20.45,"m":4.06},{"d":20.55,"m":3.98},{"d":20.65,"m":4.2},{"d":20.75,"m":3.89},{"d":20.85,"m":4.0},{"d":20.95,"m":3.78},
{"d":21.05,"m":4.09},{"d":21.15,"m":3.94},{"d":21.25,"m":4.15},{"d":21.35,"m":3.88},{"d":21.45,"m":3.96},{"d":21.55,"m":4.11},{"d":21.65,"m":3.86},{"d":21.75,"m":4.02},{"d":21.85,"m":3.91},{"d":21.95,"m":4.16},
{"d":22.05,"m":3.83},{"d":22.15,"m":4.06},{"d":22.25,"m":3.98},{"d":22.35,"m":4.2},{"d":22.45,"m":3.89},{"d":22.55,"m":4.0},{"d":22.65,"m":3.78},{"d":22.75,"m":4.09},{"d":22.85,"m":3.94},{"d":22.95,"m":4.15},
{"d":23.05,"m":3.88},{"d":23.15,"m":3.96},{"d":23.25,"m":4.11},{"d":23.35,"m":3.86},{"d":23.45,"m":4.02},{"d":23.55,"m":3.91},{"d":23.65,"m":4.16},{"d":23.75,"m":3.83},{"d":23.85,"m":4.06},{"d":23.95,"m":3.98},
{"d":24.05,"m":4.2},{"d":24.15,"m":3.89},{"d":24.25,"m":4.0},{"d":24.35,"m":3.78},{"d":24.45,"m":4.09},{"d":24.55,"m":3.94},{"d":24.65,"m":4.15},{"d":24.75,"m":3.88},{"d":24.85,"m":3.96},{"d":24.95,"m":4.11},
{"d":25.05,"m":3.86},{"d":25.15,"m":4.02},{"d":25.25,"m":3.91},{"d":25.35,"m":4.16},{"d":25.45,"m":3.83},{"d":25.55,"m":4.06},{"d":25.65,"m":3.98},{"d":25.75,"m":4.2},{"d":25.85,"m":3.89},{"d":25.95,"m":4.0},
{"d":26.05,"m":3.78},{"d":26.15,"m":4.09},{"d":26.25,"m":3.94},{"d":26.35,"m":4.15},{"d":26.45,"m":3.88},{"d":26.55,"m":3.96},{"d":26.65,"m":4.11},{"d":26.75,"m":3.86},{"d":26.85,"m":4.02},{"d":26.95,"m":3.91},
{"d":27.05,"m":4.16},{"d":27.15,"m":3.83},{"d":27.25,"m":4.06},{"d":27.35,"m":3.98},{"d":27.45,"m":4.2},{"d":27.55,"m":3.89},{"d":27.65,"m":4.0},{"d":27.75,"m":3.78},{"d":27.85,"m":4.09},{"d":27.95,"m":3.94},
{"d":1.45,"m":4.45},{"d":2.12,"m":4.88},{"d":2.6,"m":3.55},{"d":3.3,"m":4.4},{"d":4.45,"m":3.5},{"d":5.3,"m":4.5},{"d":6.05,"m":3.58},{"d":7.2,"m":4.42},{"d":8.35,"m":3.52},{"d":9.6,"m":4.48},{"d":10.85,"m":3.56},{"d":12.3,"m":4.4},{"d":13.4,"m":3.5},{"d":14.6,"m":4.46},{"d":15.55,"m":3.57},{"d":16.4,"m":4.52},{"d":17.85,"m":3.55},{"d":18.7,"m":4.43},{"d":19.55,"m":3.5},{"d":20.45,"m":4.47},{"d":21.35,"m":3.58},{"d":22.25,"m":4.41},{"d":23.15,"m":3.53},{"d":24.05,"m":4.5},{"d":24.95,"m":3.56},{"d":25.85,"m":4.44},{"d":26.75,"m":3.52},{"d":27.65,"m":4.46},
{"d":1.67,"m":3.04},{"d":3.57,"m":3.29},{"d":4.13,"m":3.04},{"d":5.69,"m":2.73},{"d":6.36,"m":3.04},{"d":6.81,"m":3.04},{"d":7.48,"m":3.1},{"d":8.15,"m":3.04},{"d":8.59,"m":2.73},{"d":9.93,"m":3.17},{"d":10.38,"m":2.92},{"d":10.6,"m":3.41},{"d":11.5,"m":2.37},{"d":11.72,"m":2.43},{"d":12.05,"m":2.67},{"d":13.06,"m":2.8},{"d":14.2,"m":3.0},{"d":15.0,"m":2.6},{"d":15.9,"m":3.3},{"d":16.4,"m":2.37},{"d":16.7,"m":4.7},{"d":17.5,"m":2.9},{"d":18.3,"m":3.1},{"d":19.1,"m":2.5},{"d":19.26,"m":2.24},{"d":20.0,"m":3.25},{"d":20.8,"m":2.8},{"d":21.6,"m":3.35},{"d":22.5,"m":2.4},{"d":23.4,"m":3.0},{"d":24.2,"m":4.75},{"d":25.0,"m":2.7},{"d":25.9,"m":3.2},{"d":26.79,"m":2.45},{"d":27.5,"m":3.05}
],
"epam":[
{"d":1,"v":440,"e":"45 keV"},{"d":1.5,"v":452,"e":"45 keV"},{"d":2,"v":436,"e":"45 keV"},{"d":2.5,"v":448,"e":"45 keV"},{"d":3,"v":430,"e":"45 keV"},{"d":3.5,"v":445,"e":"45 keV"},{"d":4,"v":425,"e":"45 keV"},{"d":4.5,"v":405,"e":"45 keV"},{"d":5,"v":412,"e":"45 keV"},{"d":5.5,"v":398,"e":"45 keV"},{"d":6,"v":420,"e":"45 keV"},{"d":6.5,"v":432,"e":"45 keV"},{"d":7,"v":440,"e":"45 keV"},{"d":7.5,"v":428,"e":"45 keV"},{"d":8,"v":446,"e":"45 keV"},{"d":8.5,"v":455,"e":"45 keV"},{"d":9,"v":462,"e":"45 keV"},{"d":9.5,"v":470,"e":"45 keV"},{"d":10,"v":458,"e":"45 keV"},{"d":10.5,"v":474,"e":"45 keV"},{"d":11,"v":466,"e":"45 keV"},{"d":11.5,"v":480,"e":"45 keV"},{"d":12,"v":470,"e":"45 keV"},{"d":12.5,"v":462,"e":"45 keV"},{"d":13,"v":476,"e":"45 keV"},{"d":13.5,"v":468,"e":"45 keV"},{"d":14,"v":485,"e":"45 keV"},{"d":14.5,"v":478,"e":"45 keV"},{"d":15,"v":490,"e":"45 keV"},{"d":15.5,"v":482,"e":"45 keV"},{"d":16,"v":495,"e":"45 keV"},{"d":16.5,"v":486,"e":"45 keV"},{"d":17,"v":500,"e":"45 keV"},{"d":17.5,"v":492,"e":"45 keV"},{"d":18,"v":505,"e":"45 keV"},{"d":18.5,"v":496,"e":"45 keV"},{"d":19,"v":510,"e":"45 keV"},{"d":19.5,"v":500,"e":"45 keV"},{"d":20,"v":515,"e":"45 keV"},{"d":20.5,"v":505,"e":"45 keV"},{"d":21,"v":498,"e":"45 keV"},{"d":21.5,"v":512,"e":"45 keV"},{"d":22,"v":520,"e":"45 keV"},{"d":22.5,"v":508,"e":"45 keV"},{"d":23,"v":525,"e":"45 keV"},{"d":23.5,"v":515,"e":"45 keV"},{"d":24,"v":505,"e":"45 keV"},{"d":24.5,"v":495,"e":"45 keV"},{"d":25,"v":488,"e":"45 keV"},{"d":25.5,"v":500,"e":"45 keV"},{"d":26,"v":492,"e":"45 keV"},{"d":26.5,"v":485,"e":"45 keV"},{"d":27,"v":495,"e":"45 keV"},{"d":27.5,"v":488,"e":"45 keV"},{"d":28,"v":492,"e":"45 keV"},
{"d":1,"v":33,"e":"235 keV"},{"d":1.5,"v":34,"e":"235 keV"},{"d":2,"v":32.5,"e":"235 keV"},{"d":2.5,"v":33.5,"e":"235 keV"},{"d":3,"v":32,"e":"235 keV"},{"d":3.5,"v":33,"e":"235 keV"},{"d":4,"v":31.5,"e":"235 keV"},{"d":4.5,"v":32,"e":"235 keV"},{"d":5,"v":31,"e":"235 keV"},{"d":5.5,"v":32.5,"e":"235 keV"},{"d":6,"v":33,"e":"235 keV"},{"d":6.5,"v":32,"e":"235 keV"},{"d":7,"v":33.5,"e":"235 keV"},{"d":7.5,"v":32.5,"e":"235 keV"},{"d":8,"v":33,"e":"235 keV"},{"d":8.5,"v":34,"e":"235 keV"},{"d":9,"v":33,"e":"235 keV"},{"d":9.5,"v":34.5,"e":"235 keV"},{"d":10,"v":33.5,"e":"235 keV"},{"d":10.5,"v":34,"e":"235 keV"},{"d":11,"v":33,"e":"235 keV"},{"d":11.5,"v":34.5,"e":"235 keV"},{"d":12,"v":33.5,"e":"235 keV"},{"d":12.5,"v":34,"e":"235 keV"},{"d":13,"v":33,"e":"235 keV"},{"d":13.5,"v":34,"e":"235 keV"},{"d":14,"v":33.5,"e":"235 keV"},{"d":14.5,"v":34.5,"e":"235 keV"},{"d":15,"v":33.5,"e":"235 keV"},{"d":15.5,"v":34,"e":"235 keV"},{"d":16,"v":33,"e":"235 keV"},{"d":16.5,"v":34,"e":"235 keV"},{"d":17,"v":33.5,"e":"235 keV"},{"d":17.5,"v":34.5,"e":"235 keV"},{"d":18,"v":33.5,"e":"235 keV"},{"d":18.5,"v":34,"e":"235 keV"},{"d":19,"v":33,"e":"235 keV"},{"d":19.5,"v":34.5,"e":"235 keV"},{"d":20,"v":35,"e":"235 keV"},{"d":20.5,"v":34,"e":"235 keV"},{"d":21,"v":35.5,"e":"235 keV"},{"d":21.5,"v":34.5,"e":"235 keV"},{"d":22,"v":35,"e":"235 keV"},{"d":22.5,"v":34,"e":"235 keV"},{"d":23,"v":35.5,"e":"235 keV"},{"d":23.5,"v":34.5,"e":"235 keV"},{"d":24,"v":35,"e":"235 keV"},{"d":24.5,"v":34,"e":"235 keV"},{"d":25,"v":34.5,"e":"235 keV"},{"d":25.5,"v":33.5,"e":"235 keV"},{"d":26,"v":34,"e":"235 keV"},{"d":26.5,"v":33,"e":"235 keV"},{"d":27,"v":34,"e":"235 keV"},{"d":27.5,"v":33.5,"e":"235 keV"},{"d":28,"v":34,"e":"235 keV"}
],
"xray":[
{"d":8.72,"f":1.9e-7,"s":1},{"d":8.73,"f":1.6e-8,"s":1},{"d":9.0,"f":1.55e-8,"s":1},{"d":9.5,"f":1.5e-8,"s":1},{"d":10.0,"f":1.6e-8,"s":1},{"d":10.5,"f":1.55e-8,"s":1},{"d":11.0,"f":1.5e-8,"s":1},{"d":11.5,"f":1.6e-8,"s":1},{"d":12.0,"f":1.55e-8,"s":1},{"d":12.5,"f":1.5e-8,"s":1},{"d":13.0,"f":1.6e-8,"s":1},{"d":13.5,"f":1.55e-8,"s":1},{"d":14.0,"f":1.6e-8,"s":1},{"d":14.5,"f":1.55e-8,"s":1},{"d":15.0,"f":1.6e-8,"s":1},{"d":15.4,"f":1.55e-8,"s":1},
{"d":15.6,"f":1.5e-8,"s":2},{"d":16.0,"f":1.55e-8,"s":2},{"d":16.5,"f":1.5e-8,"s":2},{"d":17.0,"f":1.55e-8,"s":2},{"d":17.4,"f":1.5e-8,"s":2},
{"d":18.3,"f":1.5e-8,"s":3},{"d":18.8,"f":1.55e-8,"s":3},{"d":19.3,"f":1.6e-8,"s":3},{"d":19.6,"f":1.7e-8,"s":3},{"d":19.65,"f":2.2e-8,"s":3},{"d":19.7,"f":1.8e-8,"s":3},{"d":19.75,"f":2.6e-8,"s":3},{"d":19.8,"f":2.0e-8,"s":3},{"d":19.87,"f":3.1e-8,"s":3},{"d":19.92,"f":1.9e-8,"s":3},{"d":19.98,"f":2.5e-8,"s":3},{"d":20.05,"f":1.8e-8,"s":3},{"d":20.1,"f":2.4e-8,"s":3},{"d":20.15,"f":2.0e-8,"s":3},{"d":20.2,"f":2.7e-8,"s":3},{"d":20.25,"f":1.9e-8,"s":3},{"d":20.32,"f":2.3e-8,"s":3},{"d":20.4,"f":1.8e-8,"s":3},{"d":20.45,"f":2.5e-8,"s":3},{"d":20.5,"f":2.0e-8,"s":3},{"d":20.55,"f":2.6e-8,"s":3},{"d":20.62,"f":1.9e-8,"s":3},{"d":20.7,"f":2.2e-8,"s":3},{"d":20.78,"f":1.8e-8,"s":3},{"d":20.85,"f":2.4e-8,"s":3},{"d":20.92,"f":2.0e-8,"s":3},{"d":21.0,"f":2.6e-8,"s":3},{"d":21.08,"f":1.9e-8,"s":3},{"d":21.15,"f":2.3e-8,"s":3},{"d":21.22,"f":1.8e-8,"s":3},{"d":21.3,"f":2.1e-8,"s":3},{"d":21.4,"f":1.9e-8,"s":3},{"d":21.5,"f":2.5e-8,"s":3},{"d":21.55,"f":9.5e-8,"s":3},{"d":21.6,"f":2.6e-8,"s":3},{"d":21.68,"f":2.0e-8,"s":3},{"d":21.75,"f":2.4e-8,"s":3},{"d":21.82,"f":1.9e-8,"s":3},{"d":21.9,"f":2.2e-8,"s":3},{"d":21.98,"f":1.8e-8,"s":3},{"d":22.05,"f":2.3e-8,"s":3},{"d":22.12,"f":2.0e-8,"s":3},{"d":22.2,"f":2.6e-8,"s":3},{"d":22.28,"f":2.2e-8,"s":3},{"d":22.35,"f":3.0e-8,"s":3},{"d":22.39,"f":5.5e-8,"s":3},{"d":22.43,"f":2.8e-8,"s":3},{"d":22.5,"f":2.4e-8,"s":3},{"d":22.57,"f":3.2e-8,"s":3},{"d":22.63,"f":2.6e-8,"s":3},{"d":22.7,"f":3.5e-8,"s":3},{"d":22.77,"f":2.3e-7,"s":3},{"d":22.8,"f":4.0e-8,"s":3},{"d":22.86,"f":3.0e-8,"s":3},{"d":22.92,"f":8.0e-8,"s":3},{"d":22.96,"f":3.5e-8,"s":3},{"d":23.0,"f":4.2e-8,"s":3},{"d":23.05,"f":2.8e-8,"s":3},{"d":23.1,"f":3.6e-8,"s":3},{"d":23.15,"f":2.6e-8,"s":3},{"d":23.2,"f":3.8e-8,"s":3},{"d":23.25,"f":2.5e-8,"s":3},{"d":23.3,"f":3.3e-8,"s":3},{"d":23.36,"f":2.7e-8,"s":3},{"d":23.42,"f":3.9e-8,"s":3},{"d":23.48,"f":2.6e-8,"s":3},{"d":23.55,"f":3.4e-8,"s":3},{"d":23.6,"f":2.5e-8,"s":3},{"d":23.66,"f":3.0e-8,"s":3},{"d":23.72,"f":2.4e-8,"s":3},{"d":23.8,"f":3.6e-8,"s":3},{"d":23.86,"f":2.5e-8,"s":3},{"d":23.92,"f":2.9e-8,"s":3},{"d":24.0,"f":2.3e-8,"s":3},{"d":24.08,"f":2.8e-8,"s":3},{"d":24.15,"f":2.1e-8,"s":3},{"d":24.24,"f":3.2e-8,"s":3},{"d":24.3,"f":2.2e-8,"s":3},{"d":24.4,"f":2.5e-8,"s":3},{"d":24.5,"f":2.0e-8,"s":3},{"d":24.6,"f":2.3e-8,"s":3},{"d":24.7,"f":1.9e-8,"s":3},{"d":24.8,"f":2.2e-8,"s":3},{"d":24.9,"f":2.0e-8,"s":3},{"d":25.0,"f":2.6e-8,"s":3},{"d":25.05,"f":1.4e-6,"s":3},{"d":25.1,"f":3.5e-8,"s":3},{"d":25.15,"f":2.4e-8,"s":3},{"d":25.22,"f":2.1e-8,"s":3},{"d":25.3,"f":2.5e-8,"s":3},{"d":25.38,"f":2.0e-8,"s":3},{"d":25.45,"f":2.3e-8,"s":3},{"d":25.52,"f":1.9e-8,"s":3},{"d":25.6,"f":2.2e-8,"s":3},{"d":25.7,"f":1.8e-8,"s":3},{"d":25.78,"f":2.4e-8,"s":3},{"d":25.85,"f":3.1e-8,"s":3},{"d":25.92,"f":2.0e-8,"s":3},{"d":26.0,"f":2.2e-8,"s":3},{"d":26.1,"f":1.8e-8,"s":3},{"d":26.2,"f":2.1e-8,"s":3},{"d":26.3,"f":1.9e-8,"s":3},{"d":26.4,"f":2.0e-8,"s":3},{"d":26.5,"f":1.8e-8,"s":3},{"d":26.6,"f":2.0e-8,"s":3},{"d":26.7,"f":1.9e-8,"s":3},{"d":26.8,"f":2.4e-8,"s":3},{"d":26.9,"f":2.0e-8,"s":3},{"d":27.0,"f":3.0e-8,"s":3},{"d":27.05,"f":2.2e-8,"s":3},{"d":27.15,"f":1.8e-8,"s":3},{"d":27.3,"f":1.7e-8,"s":3},{"d":27.45,"f":1.6e-8,"s":3},{"d":27.6,"f":1.7e-8,"s":3},{"d":27.7,"f":1.6e-8,"s":3}
],
"trk":[
{"t":"a","d":1,"lon":-31},{"t":"a","d":2.07,"lon":-17},
{"t":"b","d":22.03,"lon":-62},{"t":"b","d":25.98,"lon":-13},
{"t":"c","d":22.97,"lon":-31},{"t":"c","d":27.12,"lon":23}
],
"flr":[
{"d":22.48,"lon":-59.5},{"d":22.88,"lon":-54},{"d":25.05,"lon":-27.7},{"d":8.75,"lon":77}
]
},
"vconcat":[
{
"width":403,"height":82,
"title":{"text":"Bartels Rotation 2403\u00a0\u00a0\u00a0\u00a01 Sep 2009 through 27 Sep 2009\u00a0\u00a0\u00a0\u00a02009:244\u20132009:270","fontSize":10.1,"fontWeight":"normal","color":"#555","font":"DejaVu Sans","anchor":"middle","offset":16,"dx":-12},
"data":{"name":"p1"},
"mark":{"type":"square","size":3.5,"color":"#000","opacity":1},
"encoding":{
"x":{"field":"d","type":"quantitative","scale":{"domain":[1,28],"nice":false,"zero":false},
"axis":{"title":null,"orient":"top","domain":true,"domainColor":"#333","tickCount":135,"grid":true,"gridColor":{"condition":{"test":"abs(datum.value % 1 - 0.8) < 0.01","value":"#b0f6ff"},"value":"#ffffa6"},"tickSize":5,"tickColor":"#555","tickOpacity":{"condition":{"test":"datum.value % 1 == 0","value":1},"value":0},"labelExpr":"datum.value % 3 == 1 && datum.value < 28 ? '' + (243 + datum.value) : ''","labelOffset":8,"labelPadding":-1}},
"y":{"field":"m","type":"quantitative","scale":{"domain":[2,5],"nice":false,"zero":false},
"axis":{"title":["ACE/ULEIS","0.2\u20130.4 MeV/nuc","He Mass"],"values":[2.5,3,3.5,4,4.5],"labelExpr":"datum.value == 3 || datum.value == 4 ? '' + datum.value : ''","grid":true,"gridColor":"#a8f8ff","gridOpacity":{"condition":{"test":"datum.value == 3 || datum.value == 4","value":1},"value":0},"tickSize":3,"domain":false,"labelPadding":2,"titlePadding":4,"titleFontSize":8,"titleLineHeight":7.8}}
}
},
{
"width":403,"height":82,
"data":{"name":"p2"},
"mark":{"type":"square","size":3.5,"color":"#000","opacity":1},
"encoding":{
"x":{"field":"d","type":"quantitative","scale":{"domain":[1,28],"nice":false,"zero":false},
"axis":{"title":null,"orient":"bottom","labels":false,"domain":false,"tickCount":135,"grid":true,"gridColor":{"condition":{"test":"abs(datum.value % 1 - 0.8) < 0.01","value":"#b0f6ff"},"value":"#ffffa6"},"tickSize":-3,"tickColor":"#666","tickOpacity":{"condition":{"test":"datum.value % 1 == 0","value":1},"value":0}}},
"y":{"field":"m","type":"quantitative","scale":{"domain":[2,5],"nice":false,"zero":false},
"axis":{"title":["ACE/ULEIS","0.4\u20131.0 MeV/nuc","He Mass"],"values":[2.5,3,3.5,4,4.5],"labelExpr":"datum.value == 3 || datum.value == 4 ? '' + datum.value : ''","grid":true,"gridColor":"#a8f8ff","gridOpacity":{"condition":{"test":"datum.value == 3 || datum.value == 4","value":1},"value":0},"tickSize":3,"domain":false,"labelPadding":2,"titlePadding":4,"titleFontSize":8,"titleLineHeight":7.8}}
}
},
{
"width":403,"height":83,
"data":{"name":"p3"},
"mark":{"type":"square","size":3.5,"color":"#000","opacity":1},
"encoding":{
"x":{"field":"d","type":"quantitative","scale":{"domain":[1,28],"nice":false,"zero":false},
"axis":{"title":null,"orient":"bottom","labels":false,"domain":false,"tickCount":135,"grid":true,"gridColor":{"condition":{"test":"abs(datum.value % 1 - 0.8) < 0.01","value":"#b0f6ff"},"value":"#ffffa6"},"tickSize":-3,"tickColor":"#666","tickOpacity":{"condition":{"test":"datum.value % 1 == 0","value":1},"value":0}}},
"y":{"field":"m","type":"quantitative","scale":{"domain":[2,5],"nice":false,"zero":false},
"axis":{"title":["ACE/SIS","4.5\u20137.6 MeV/nuc","He Mass"],"values":[2.5,3,3.5,4,4.5],"labelExpr":"datum.value == 3 || datum.value == 4 ? '' + datum.value : ''","grid":true,"gridColor":"#a8f8ff","gridOpacity":{"condition":{"test":"datum.value == 3 || datum.value == 4","value":1},"value":0},"tickSize":3,"domain":false,"labelPadding":2,"titlePadding":4,"titleFontSize":8,"titleLineHeight":7.8}}
}
},
{
"width":403,"height":82,
"data":{"name":"p4"},
"mark":{"type":"square","size":3.5,"color":"#000","opacity":1},
"encoding":{
"x":{"field":"d","type":"quantitative","scale":{"domain":[1,28],"nice":false,"zero":false},
"axis":{"title":null,"orient":"bottom","labels":false,"domain":false,"tickCount":135,"grid":true,"gridColor":{"condition":{"test":"abs(datum.value % 1 - 0.8) < 0.01","value":"#b0f6ff"},"value":"#ffffa6"},"tickSize":-3,"tickColor":"#666","tickOpacity":{"condition":{"test":"datum.value % 1 == 0","value":1},"value":0}}},
"y":{"field":"m","type":"quantitative","scale":{"domain":[2,5],"nice":false,"zero":false},
"axis":{"title":["ACE/SIS","7.6\u201316.3 MeV/nuc","He Mass"],"values":[2.5,3,3.5,4,4.5],"labelExpr":"datum.value == 3 || datum.value == 4 ? '' + datum.value : ''","grid":true,"gridColor":"#a8f8ff","gridOpacity":{"condition":{"test":"datum.value == 3 || datum.value == 4","value":1},"value":0},"tickSize":3,"domain":false,"labelPadding":2,"titlePadding":4,"titleFontSize":8,"titleLineHeight":7.8}}
}
},
{
"width":403,"height":83,
"data":{"name":"epam"},
"mark":{"type":"line","strokeWidth":2},
"encoding":{
"x":{"field":"d","type":"quantitative","scale":{"domain":[1,28],"nice":false,"zero":false},
"axis":{"title":null,"orient":"bottom","labels":false,"domain":false,"tickCount":135,"grid":true,"gridColor":{"condition":{"test":"abs(datum.value % 1 - 0.8) < 0.01","value":"#b0f6ff"},"value":"#ffffa6"},"tickSize":-3,"tickColor":"#666","tickOpacity":{"condition":{"test":"datum.value % 1 == 0","value":1},"value":0}}},
"y":{"field":"v","type":"quantitative","scale":{"type":"log","domain":[4.5,450000000],"nice":false},
"axis":{"title":["ACE/EPAM","e\u207b Intensity","45 & 235 keV"],"values":[10,100,1000,10000,100000,1000000,10000000,100000000],"labelExpr":"datum.value == 100 ? '10\u00b2' : datum.value == 10000 ? '10\u2074' : datum.value == 1000000 ? '10\u2076' : datum.value == 100000000 ? '10\u2078' : ''","grid":false,"tickSize":3,"domain":false,"labelPadding":2,"titlePadding":4,"titleFontSize":8,"titleLineHeight":7.8}},
"color":{"field":"e","type":"nominal","scale":{"domain":["45 keV","235 keV"],"range":["#1c1cf0","#1ed81e"]},"legend":null}
}
},
{
"width":403,"height":81,
"layer":[
{"data":{"name":"xray"},
"mark":{"type":"line","color":"#ff1a1a","strokeWidth":1},
"encoding":{
"x":{"field":"d","type":"quantitative","scale":{"domain":[1,28],"nice":false,"zero":false},
"axis":{"title":null,"orient":"bottom","domain":true,"domainColor":"#333","tickCount":135,"grid":true,"gridColor":{"condition":{"test":"abs(datum.value % 1 - 0.8) < 0.01","value":"#b0f6ff"},"value":"#ffffa6"},"tickSize":4,"tickColor":"#555","tickOpacity":{"condition":{"test":"datum.value % 1 == 0","value":1},"value":0},"labelExpr":"datum.value % 3 == 1 && datum.value < 28 ? [datum.value + ' Sep', '2009'] : ''","labelOffset":8,"labelPadding":9,"labelFontSize":8,"labelLineHeight":8}},
"y":{"field":"f","type":"quantitative","scale":{"type":"log","domain":[1e-8,1e-2],"nice":false},
"axis":{"title":["GOES-12","X-Ray Flux","1-8 A"],"orient":"left","values":[1e-8,3.1623e-8,1e-7,3.1623e-7,1e-6,3.1623e-6,1e-5,3.1623e-5,1e-4,3.1623e-4,1e-3,3.1623e-3,1e-2],"labelExpr":"datum.value > 3e-8 && datum.value < 4e-8 ? 'A' : datum.value > 3e-7 && datum.value < 4e-7 ? 'B' : datum.value > 3e-6 && datum.value < 4e-6 ? 'C' : datum.value > 3e-5 && datum.value < 4e-5 ? 'M' : datum.value > 3e-4 && datum.value < 4e-4 ? 'X' : ''","tickOpacity":{"condition":{"test":"abs(log(datum.value)/LN10 - round(log(datum.value)/LN10)) > 0.25","value":0},"value":1},"grid":true,"gridColor":"#a8f8ff","gridOpacity":{"condition":{"test":"abs(log(datum.value)/LN10 - round(log(datum.value)/LN10)) > 0.25","value":0},"value":1},"tickSize":4,"domain":false,"labelPadding":2,"titlePadding":4,"titleFontSize":8,"titleLineHeight":7.8}},
"detail":{"field":"s","type":"nominal"}
}},
{"data":{"name":"trk"},
"mark":{"type":"line","color":"#000","strokeWidth":1},
"encoding":{
"x":{"field":"d","type":"quantitative","scale":{"domain":[1,28],"nice":false,"zero":false}},
"y":{"field":"lon","type":"quantitative","scale":{"domain":[-90,90],"nice":false,"zero":false},
"axis":{"orient":"right","title":"Flare Longitude","titleAngle":270,"titleBaseline":"top","values":[-90,-60,-30,0,30,60,90],"labelExpr":"'' + datum.value","labelOverlap":false,"labelFontSize":8,"tickSize":3,"labelPadding":2,"domain":false,"grid":false,"titlePadding":6}},
"strokeDash":{"field":"t","type":"nominal","scale":{"domain":["a","b","c"],"range":[[1,0],[6,3],[1.5,2.5]]},"legend":null}
}},
{"data":{"name":"flr"},
"mark":{"type":"square","size":6,"color":"#000","opacity":1},
"encoding":{
"x":{"field":"d","type":"quantitative","scale":{"domain":[1,28],"nice":false,"zero":false}},
"y":{"field":"lon","type":"quantitative","scale":{"domain":[-90,90],"nice":false,"zero":false},"axis":null}
}}
],
"resolve":{"scale":{"y":"independent"}}
}
],
"config":{
"view":{"stroke":"#8a8a8a","strokeWidth":1},
"font":"DejaVu Sans",
"axis":{"labelFont":"DejaVu Sans","labelFontSize":8.5,"labelColor":"#555","titleFont":"DejaVu Sans","titleFontSize":8.5,"titleFontWeight":"normal","titleColor":"#555","tickColor":"#666","domainColor":"#666","labelOverlap":false,"labelFlush":false,"labelBound":false}
}
}
